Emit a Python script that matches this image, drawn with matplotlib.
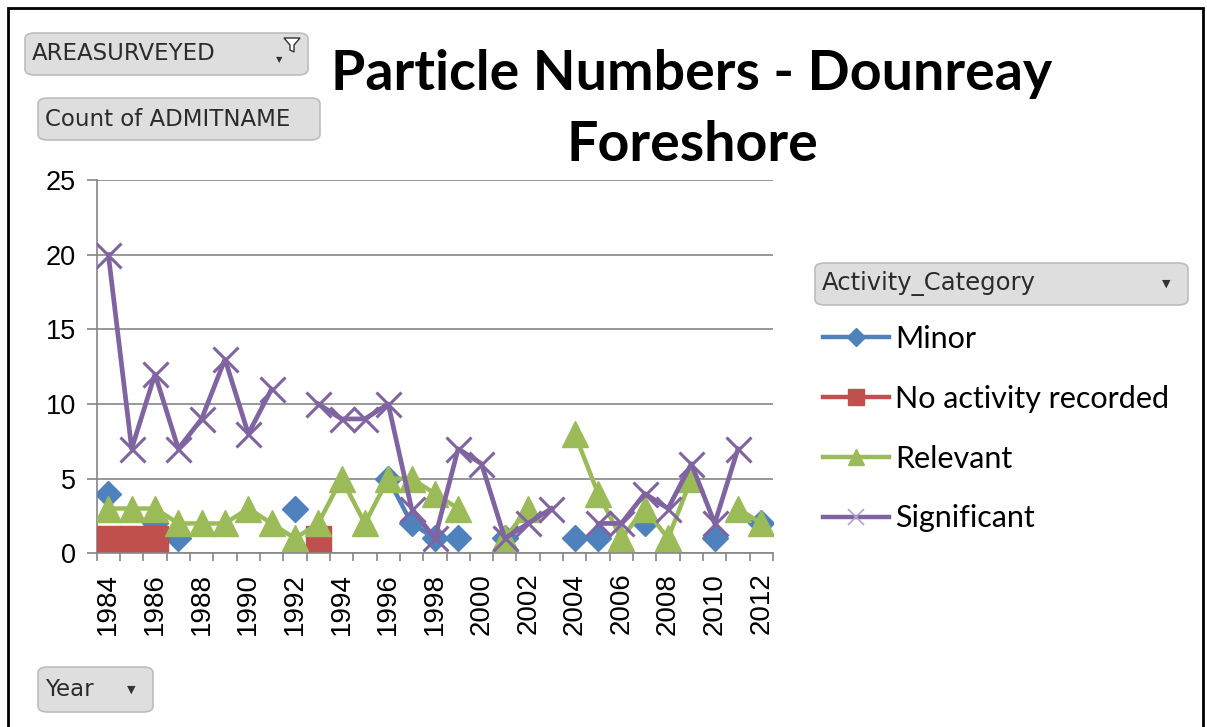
import numpy as np
import matplotlib
matplotlib.use('Agg')
import matplotlib.pyplot as plt
from matplotlib.patches import FancyBboxPatch, Rectangle, Polygon
from matplotlib.lines import Line2D

nan = np.nan
years = list(range(1984, 2013))

minor = [4, nan, 2, 1, nan, nan, nan, nan, 3, nan, nan, nan, 5, 2, 1, 1, nan, 1, nan, nan,
         1, 1, nan, 2, nan, nan, 1, nan, 2]
no_activity = [1, 1, 1, nan, nan, nan, nan, nan, nan, 1, nan, nan, nan, nan, nan, nan, nan, nan, nan, nan,
               nan, nan, nan, nan, nan, nan, nan, nan, nan]
relevant = [3, 3, 3, 2, 2, 2, 3, 2, 1, 2, 5, 2, 5, 5, 4, 3, nan, 1, 3, nan,
            8, 4, 1, 3, 1, 5, nan, 3, 2]
significant = [20, 7, 12, 7, 9, 13, 8, 11, nan, 10, 9, 9, 10, 3, 1, 7, 6, 1, 2, 3,
               nan, 2, 2, 4, 3, 6, 2, 7, nan]

series_names = ['Minor', 'No activity recorded', 'Relevant', 'Significant']
colors = ['#4F81BD', '#C0504D', '#9BBB59', '#8064A2']

W, H = 1207, 727
fig = plt.figure(figsize=(W / 100, H / 100), dpi=100)
fig.patch.set_facecolor('white')

# plot area
ax = fig.add_axes([96.7 / W, 1 - 553.3 / H, (773 - 96.7) / W, (553.3 - 180) / H])
x = np.arange(len(years))

ax.plot(x, minor, color=colors[0], lw=3.2, marker='D', ms=13.5, mec=colors[0], zorder=3)
ax.plot(x, no_activity, color=colors[1], lw=3.2, marker='s', ms=18, mec=colors[1], zorder=4)
ax.plot(x, relevant, color=colors[2], lw=3.2, marker='^', ms=19, mec=colors[2], zorder=5)
ax.plot(x, significant, color=colors[3], lw=3.4, marker='x', ms=18, mew=2.2, zorder=6)

ax.set_xlim(-0.5, len(years) - 0.5)
ax.set_ylim(0, 25)
ax.set_yticks([0, 5, 10, 15, 20, 25])
ax.yaxis.grid(True, color='#868686', lw=1.2)
ax.set_axisbelow(True)

ax.set_xticks(x[::2])
ax.set_xticklabels([str(y) for y in years[::2]], rotation=90)
ax.set_xticks(np.arange(-0.5, len(years)), minor=True)
ax.tick_params(axis='x', which='major', length=0, pad=14, labelsize=20)
ax.tick_params(axis='x', which='minor', length=6, color='#868686', width=1.2)
ax.tick_params(axis='y', length=7, color='#868686', width=1.2, labelsize=19.5, pad=8)
for lab in ax.get_xticklabels() + ax.get_yticklabels():
    lab.set_fontfamily('Liberation Sans')

for s in ['top', 'right']:
    ax.spines[s].set_visible(False)
for s in ['left', 'bottom']:
    ax.spines[s].set_color('#868686')
    ax.spines[s].set_linewidth(1.2)

# title (two centred lines)
fig.text(692 / W, 1 - 74 / H, 'Particle Numbers - Dounreay', ha='center', va='center',
         fontsize=40, fontweight='bold', fontfamily='Lato')
fig.text(692 / W, 1 - 145 / H, 'Foreshore', ha='center', va='center',
         fontsize=40, fontweight='bold', fontfamily='Lato')

# legend
handles = [Line2D([], [], color=colors[0], lw=3.2, marker='D', ms=9),
           Line2D([], [], color=colors[1], lw=3.2, marker='s', ms=12),
           Line2D([], [], color=colors[2], lw=3.2, marker='^', ms=12),
           Line2D([], [], color=colors[3], lw=3.2, marker='x', ms=12, mew=1.2, mec='#B49FD0')]
fig.legend(handles, series_names, loc='upper left', bbox_to_anchor=(823 / W, 1 - 325 / H),
           frameon=False, prop={'family': 'Lato', 'size': 22}, handlelength=2.15,
           handletextpad=0.2, labelspacing=1.04, borderpad=0, borderaxespad=0)


def button(x0, y0, x1, y1, label, fs=16.5, arrow=True):
    box = FancyBboxPatch((x0 / W, 1 - y1 / H), (x1 - x0) / W, (y1 - y0) / H,
                         boxstyle='round,pad=0,rounding_size=0.008', transform=fig.transFigure,
                         facecolor='#DEDEDE', edgecolor='#BDBDBD', lw=1.2)
    fig.patches.append(box)
    fig.text((x0 + 7) / W, 1 - (y0 + y1) / 2 / H, label, ha='left', va='center',
             fontsize=fs, fontfamily='DejaVu Sans', color='#2B2B2B')
    if arrow:
        fig.text((x1 - 22) / W, 1 - (y0 + y1) / 2 / H, '\u25BC', ha='center', va='center',
                 fontsize=8, color='#333333')


button(25, 33, 308, 75, 'AREASURVEYED', arrow=False)
fig.text(279 / W, 1 - 60 / H, '\u25BC', ha='center', va='center', fontsize=6, color='#333333')
funnel = Polygon([(284 / W, 1 - 38 / H), (300 / W, 1 - 38 / H), (294 / W, 1 - 45 / H),
                  (294 / W, 1 - 52 / H), (290 / W, 1 - 50 / H), (290 / W, 1 - 45 / H)],
                 closed=True, transform=fig.transFigure, facecolor='white', edgecolor='#333333', lw=1)
fig.patches.append(funnel)
button(38, 98, 320, 140, 'Count of ADMITNAME', arrow=False)
button(38, 667, 153, 712, 'Year')
button(815, 263, 1188, 305, 'Activity_Category', fs=17.5)

# outer frame
fig.patches.append(Rectangle((8 / W, -0.01), (1203 - 8) / W, (H - 8) / H + 0.01, fill=False,
                             edgecolor='black', lw=2, transform=fig.transFigure))

fig.savefig('out.png', dpi=100)
